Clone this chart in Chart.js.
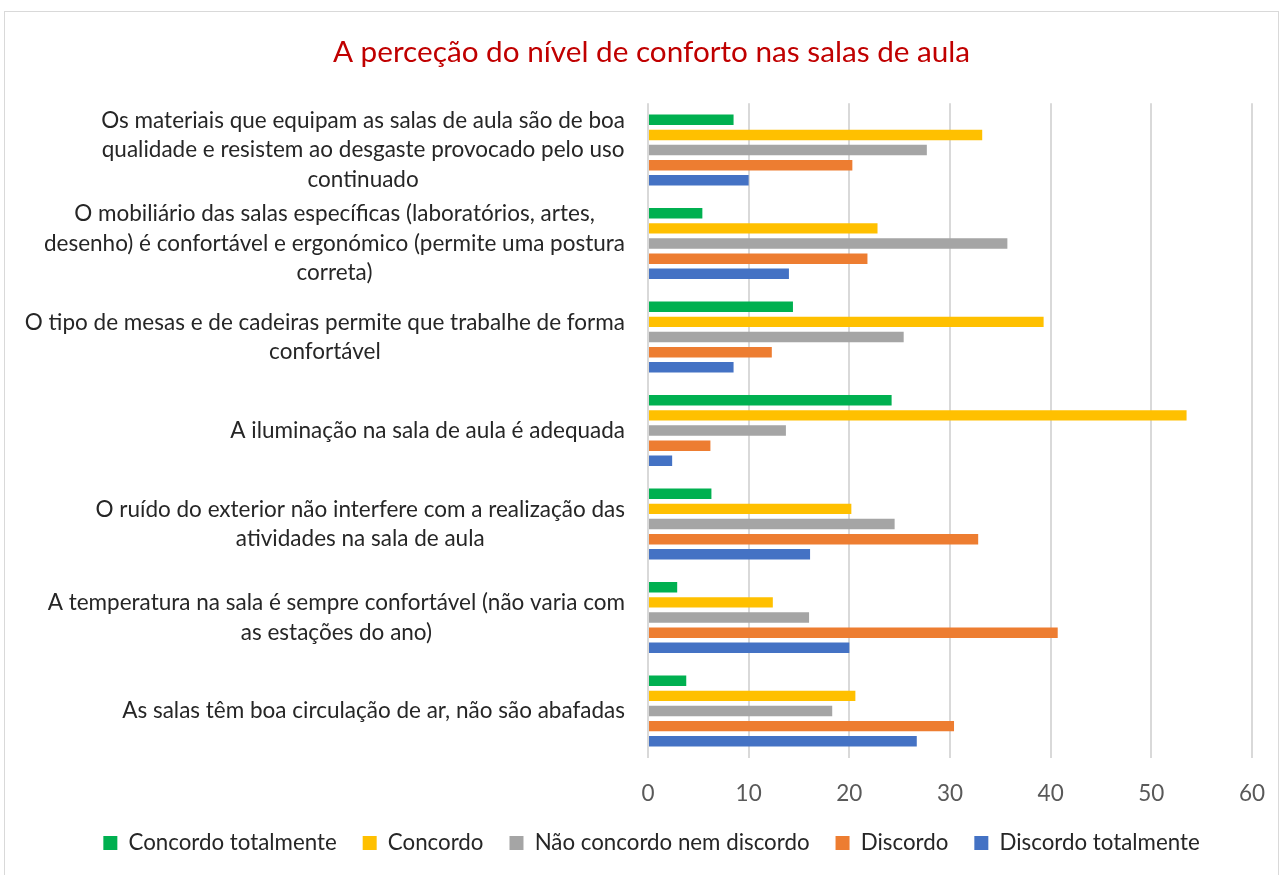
<!DOCTYPE html>
<html><head><meta charset="utf-8">
<script src="https://cdn.jsdelivr.net/npm/chart.js@4.4.1/dist/chart.umd.min.js"></script>
<style>html,body{margin:0;padding:0;background:#fff;} #wrap{position:relative;width:1281px;height:875px;}</style>
</head><body><div id="wrap"><canvas id="c" width="1281" height="875"></canvas></div>
<script>
const categories = [
  ["Os materiais que equipam as salas de aula são de boa", "qualidade e resistem ao desgaste provocado pelo uso", "continuado"],
  ["O mobiliário das salas específicas (laboratórios, artes,", "desenho) é confortável e ergonómico (permite uma postura", "correta)"],
  ["O tipo de mesas e de cadeiras permite que trabalhe de forma", "confortável"],
  ["A iluminação na sala de aula é adequada"],
  ["O ruído do exterior não interfere com a realização das", "atividades na sala de aula"],
  ["A temperatura na sala é sempre confortável (não varia com", "as estações do ano)"],
  ["As salas têm boa circulação de ar, não são abafadas"]
];
const seriesNames = ["Concordo totalmente", "Concordo", "Não concordo nem discordo", "Discordo", "Discordo totalmente"];
const concordoTotalmente = [8.5, 5.4, 14.4, 24.2, 6.3, 2.9, 3.8];
const concordo = [33.2, 22.8, 39.3, 53.5, 20.2, 12.4, 20.6];
const naoConcordoNemDiscordo = [27.7, 35.7, 25.4, 13.7, 24.5, 16.0, 18.3];
const discordo = [20.3, 21.8, 12.3, 6.2, 32.8, 40.7, 30.4];
const discordoTotalmente = [10.0, 14.0, 8.5, 2.4, 16.1, 20.0, 26.7];
const xTicks = [0, 10, 20, 30, 40, 50, 60];
const chartTitle = "A perceção do nível de conforto nas salas de aula";

const FONT = "Lato";
const LABEL_SIZE = 22.5;
const LEGEND_SIZE = 22.3;
const LABEL_LH = 29.5;
const LABEL_RIGHT = 625;
const PAD_LEFT = 51;
const PAD_RIGHT = 29;
const PLOT_LEFT = 648;

const colors = ["#00B050", "#FFC000", "#A5A5A5", "#ED7D31", "#4472C4"];
const seriesData = [concordoTotalmente, concordo, naoConcordoNemDiscordo, discordo, discordoTotalmente];

const frameAndLabels = {
  id: 'frameAndLabels',
  beforeDraw(chart) {
    const ctx = chart.ctx;
    ctx.save();
    ctx.fillStyle = '#ffffff';
    ctx.fillRect(0, 0, chart.width, chart.height);
    ctx.strokeStyle = '#d9d9d9';
    ctx.lineWidth = 1;
    ctx.strokeRect(4.5, 11.5, 1274, 900);
    ctx.restore();
  },
  afterDraw(chart) {
    const ctx = chart.ctx;
    const ys = chart.scales.y;
    ctx.save();
    ctx.font = LABEL_SIZE + 'px ' + FONT;
    ctx.fillStyle = '#262626';
    ctx.textAlign = 'center';
    ctx.textBaseline = 'middle';
    categories.forEach((lines, i) => {
      const cy = ys.getPixelForValue(i);
      const w = Math.max(...lines.map(l => ctx.measureText(l).width));
      const cx = LABEL_RIGHT - w / 2;
      lines.forEach((l, j) => ctx.fillText(l, cx, cy + (j - (lines.length - 1) / 2) * LABEL_LH));
    });
    ctx.restore();
  }
};

new Chart(document.getElementById('c'), {
  type: 'bar',
  data: {
    labels: categories.map(l => l.join(' ')),
    datasets: seriesNames.map((name, k) => ({
      label: name,
      data: seriesData[k],
      backgroundColor: colors[k],
      borderWidth: 0,
      categoryPercentage: 0.81,
      barPercentage: 0.69
    }))
  },
  options: {
    indexAxis: 'y',
    responsive: false,
    animation: false,
    layout: { padding: { left: PAD_LEFT, right: PAD_RIGHT, top: 0, bottom: 10.85 } },
    scales: {
      x: {
        min: 0, max: 60,
        afterBuildTicks(axis) { axis.ticks = xTicks.map(v => ({ value: v })); },
        afterFit(axis) { axis.height = 48.1; axis.paddingLeft = 0; axis.paddingRight = 0; },
        grid: { color: '#d9d9d9', lineWidth: 2, drawTicks: false },
        border: { display: false },
        ticks: { color: '#595959', font: { family: FONT, size: LABEL_SIZE }, padding: 22 }
      },
      y: {
        afterFit(axis) { axis.width = PLOT_LEFT - PAD_LEFT; },
        grid: { display: false, drawTicks: false },
        border: { display: false },
        ticks: { display: false }
      }
    },
    plugins: {
      title: {
        display: true,
        text: chartTitle,
        color: '#C00000',
        font: { family: FONT, size: 29.7, weight: 'normal' },
        padding: { top: 34.3, bottom: 33.36 }
      },
      legend: {
        position: 'bottom',
        labels: {
          color: '#262626',
          font: { family: FONT, size: LEGEND_SIZE },
          boxWidth: 14, boxHeight: 14,
          padding: 26
        }
      },
      tooltip: { enabled: false }
    }
  },
  plugins: [frameAndLabels]
});
</script>
</body></html>
